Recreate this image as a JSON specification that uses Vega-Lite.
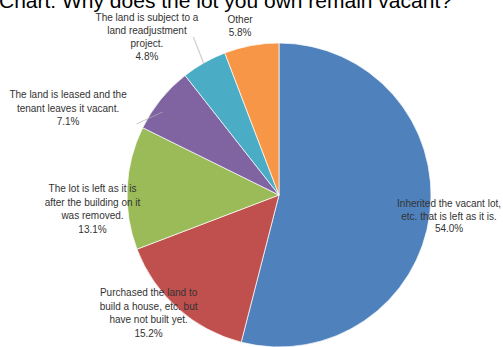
{
  "$schema": "https://vega.github.io/schema/vega-lite/v6.json",
  "width": 304,
  "height": 304,
  "autosize": "none",
  "padding": {"left": 127, "top": 43, "right": 72, "bottom": 0},
  "background": "white",
  "title": {
    "text": "Chart: Why does the lot you own remain vacant?",
    "anchor": "start",
    "frame": "group",
    "font": "Liberation Sans",
    "fontSize": 21,
    "fontWeight": "normal",
    "color": "#000000",
    "baseline": "bottom",
    "offset": -50,
    "dx": -128
  },
  "data": {
    "values": [
      {"idx": 1, "reason": "Inherited", "pct": 54.0, "label": "Inherited the vacant lot,\netc. that is left as it is.\n54.0%"},
      {"idx": 2, "reason": "Purchased", "pct": 15.2, "label": "Purchased the land to\nbuild a house, etc. but\nhave not built yet.\n15.2%"},
      {"idx": 3, "reason": "Building removed", "pct": 13.1, "label": "The lot is left as it is\nafter the building on it\nwas removed.\n13.1%"},
      {"idx": 4, "reason": "Leased", "pct": 7.1, "label": "The land is leased and the\ntenant leaves it vacant.\n7.1%"},
      {"idx": 5, "reason": "Readjustment", "pct": 4.8, "label": "The land is subject to a\nland readjustment\nproject.\n4.8%"},
      {"idx": 6, "reason": "Other", "pct": 5.8, "label": "Other\n5.8%"}
    ]
  },
  "encoding": {
    "theta": {"field": "pct", "type": "quantitative", "stack": true},
    "order": {"field": "idx", "type": "quantitative"}
  },
  "layer": [
    {
      "mark": {"type": "arc", "stroke": "white", "strokeWidth": 0.7},
      "encoding": {
        "color": {
          "field": "reason",
          "type": "nominal",
          "scale": {
            "domain": ["Inherited", "Purchased", "Building removed", "Leased", "Readjustment", "Other"],
            "range": ["#4F81BD", "#C0504D", "#9BBB59", "#8064A2", "#4BACC6", "#F79646"]
          },
          "legend": null
        }
      }
    },
    {
      "mark": {"type": "text", "radius": 171.4, "dx": 0, "dy": -12, "align": "center", "baseline": "middle", "font": "Liberation Sans", "fontSize": 10, "lineHeight": 12.5, "lineBreak": "\n", "color": "#333333"},
      "encoding": {"text": {"condition": {"test": "datum.idx == 1", "field": "label"}, "value": ""}}
    },
    {
      "mark": {"type": "text", "radius": 176.3, "dx": -13, "dy": -33.3, "align": "center", "baseline": "middle", "font": "Liberation Sans", "fontSize": 10, "lineHeight": 13.5, "lineBreak": "\n", "color": "#333333"},
      "encoding": {"text": {"condition": {"test": "datum.idx == 2", "field": "label"}, "value": ""}}
    },
    {
      "mark": {"type": "text", "radius": 187.1, "dx": 0.4, "dy": 3, "align": "center", "baseline": "middle", "font": "Liberation Sans", "fontSize": 10, "lineHeight": 13.5, "lineBreak": "\n", "color": "#333333"},
      "encoding": {"text": {"condition": {"test": "datum.idx == 3", "field": "label"}, "value": ""}}
    },
    {
      "mark": {"type": "text", "radius": 227.9, "dx": -34, "dy": 44.1, "align": "center", "baseline": "middle", "font": "Liberation Sans", "fontSize": 10, "lineHeight": 13.5, "lineBreak": "\n", "color": "#333333"},
      "encoding": {"text": {"condition": {"test": "datum.idx == 4", "field": "label"}, "value": ""}}
    },
    {
      "mark": {"type": "text", "radius": 205.5, "dx": -30.8, "dy": 1.4, "align": "center", "baseline": "middle", "font": "Liberation Sans", "fontSize": 10, "lineHeight": 13.3, "lineBreak": "\n", "color": "#333333"},
      "encoding": {"text": {"condition": {"test": "datum.idx == 5", "field": "label"}, "value": ""}}
    },
    {
      "mark": {"type": "text", "radius": 172.5, "dx": -7.7, "dy": -4.9, "align": "center", "baseline": "middle", "font": "Liberation Sans", "fontSize": 10, "lineHeight": 13, "lineBreak": "\n", "color": "#333333"},
      "encoding": {"text": {"condition": {"test": "datum.idx == 6", "field": "label"}, "value": ""}}
    },
    {
      "mark": {"type": "text", "radius": 166.5, "dx": 1, "dy": -0.6, "angle": 69, "align": "center", "baseline": "middle", "font": "DejaVu Sans", "fontSize": 8, "color": "#b0b0b0"},
      "encoding": {"text": {"condition": {"test": "datum.idx == 5", "value": "──────"}, "value": ""}}
    },
    {
      "mark": {"type": "text", "radius": 160, "dx": -14.7, "dy": 20.3, "angle": -24.4, "align": "center", "baseline": "middle", "font": "DejaVu Sans", "fontSize": 8, "color": "#b0b0b0"},
      "encoding": {"text": {"condition": {"test": "datum.idx == 4", "value": "──────"}, "value": ""}}
    }
  ]
}
